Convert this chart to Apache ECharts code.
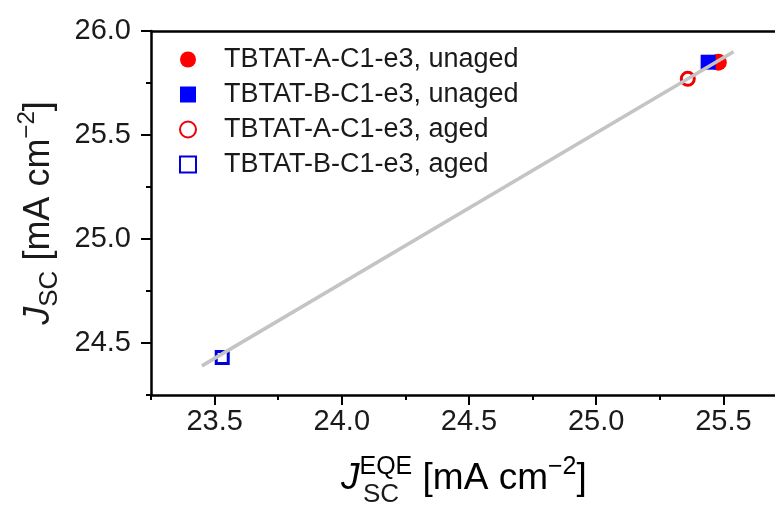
<!DOCTYPE html>
<html>
<head>
<meta charset="utf-8">
<script src="https://cdn.jsdelivr.net/npm/echarts@6/dist/echarts.min.js"></script>
<style>html,body{margin:0;padding:0;background:#fff}#c{width:775px;height:515px}</style>
</head>
<body>
<div id="c"></div>
<script>
// ---- data ----
const seriesNames = ['TBTAT-A-C1-e3, unaged','TBTAT-B-C1-e3, unaged','TBTAT-A-C1-e3, aged','TBTAT-B-C1-e3, aged'];
const aUnaged = [[25.48, 25.85]];
const bUnaged = [[25.44, 25.85]];
const aAged   = [[25.36, 25.77]];
const bAged   = [[23.53, 24.43]];
const fitLine = [[23.45, 24.39], [25.54, 25.90]];
const xMajorTicks = [23.5, 24.0, 24.5, 25.0, 25.5];
const xMinorTicks = [23.25, 23.75, 24.25, 24.75, 25.25, 25.75];
const yMajorTicks = [24.5, 25.0, 25.5, 26.0];
const yMinorTicks = [24.25, 24.75, 25.25, 25.75];
const xRange = [23.25, 25.75];
const yRange = [24.25, 26.0];

const FONT = '"Liberation Sans", Arial, sans-serif';
const TXT = '#1a1a1a';
const chart = echarts.init(document.getElementById('c'), null, {renderer:'canvas'});

const richStyles = {
  i:    {fontFamily: FONT, fontSize: 36, fontStyle: 'italic', color: TXT, lineHeight: 48, verticalAlign: 'middle'},
  r:    {fontFamily: FONT, fontSize: 36, color: TXT, lineHeight: 48, verticalAlign: 'middle'},
  sub:  {fontFamily: FONT, fontSize: 26, color: TXT, lineHeight: 48, verticalAlign: 'bottom'},
  sup:  {fontFamily: FONT, fontSize: 24, color: TXT, lineHeight: 48, verticalAlign: 'top'}
};
const richX = {
  i:    Object.assign({}, richStyles.i, {fontSize: 37}),
  r:    Object.assign({}, richStyles.r, {fontSize: 37}),
  sup:  Object.assign({}, richStyles.sup, {fontSize: 25})
};

const axisLineStyle = {color: '#000', width: 2.5};
const tickStyle = {color: '#000', width: 2};

chart.setOption({
  animation: false,
  backgroundColor: '#fff',
  grid: {left: 151, top: 31, width: 636, height: 364, outerBoundsMode: 'none', containLabel: false, show: false},
  legend: {
    orient: 'vertical', left: 179, top: 46, itemWidth: 16, itemHeight: 16, itemGap: 8, padding: 0,
    textStyle: {fontFamily: FONT, fontSize: 27, color: TXT, lineHeight: 26,
      rich: {s: {width: 23, fontSize: 27}}},
    formatter: name => '{s| }' + name,
    data: seriesNames
  },
  xAxis: [{
    type: 'value', min: xRange[0], max: xRange[1], position: 'bottom',
    axisLine: {show: true, onZero: false, lineStyle: axisLineStyle},
    axisTick: {show: true, inside: false, length: 10, lineStyle: tickStyle, customValues: xMajorTicks},
    axisLabel: {show: true, margin: 12, fontFamily: FONT, fontSize: 29, color: TXT, customValues: xMajorTicks,
      formatter: v => Number(v).toFixed(1)},
    splitLine: {show: false}
  }, {
    type: 'value', min: xRange[0], max: xRange[1], position: 'bottom',
    axisLine: {show: false, onZero: false},
    axisTick: {show: true, inside: false, length: 5, lineStyle: tickStyle, customValues: xMinorTicks},
    axisLabel: {show: false}, splitLine: {show: false}
  }, {
    type: 'value', min: xRange[0], max: xRange[1], position: 'top',
    axisLine: {show: true, onZero: false, lineStyle: axisLineStyle},
    axisTick: {show: false}, axisLabel: {show: false}, splitLine: {show: false}
  }],
  yAxis: [{
    type: 'value', min: yRange[0], max: yRange[1], position: 'left',
    axisLine: {show: true, onZero: false, lineStyle: axisLineStyle},
    axisTick: {show: true, inside: false, length: 10, lineStyle: tickStyle, customValues: yMajorTicks},
    axisLabel: {show: true, margin: 20, fontFamily: FONT, fontSize: 29, color: TXT, customValues: yMajorTicks,
      formatter: v => Number(v).toFixed(1)},
    splitLine: {show: false},
    name: '{i|J}{sub|SC}{r| [mA cm}{sup|−2}{r|]}',
    nameLocation: 'middle', nameRotate: 90, nameGap: 88,
    nameTextStyle: {rich: richStyles}
  }, {
    type: 'value', min: yRange[0], max: yRange[1], position: 'left',
    axisLine: {show: false, onZero: false},
    axisTick: {show: true, inside: false, length: 5, lineStyle: tickStyle, customValues: yMinorTicks},
    axisLabel: {show: false}, splitLine: {show: false}
  }],
  graphic: [
    {type: 'text', left: 341, top: 455, z: 100,
      style: {text: '{i|J}{sup|EQE}{r| [mA cm}{sup|−2}{r|]}', rich: richX}},
    {type: 'text', left: 363, top: 482, z: 100,
      style: {text: 'SC', fontFamily: FONT, fontSize: 26, fill: TXT}},
    {type: 'rect', z: 100, silent: true,
      shape: {x: 768, y: 33.5, width: 10, height: 359.5}, style: {fill: '#fff'}}
  ],
  series: [
    {name: seriesNames[0], type: 'scatter', data: aUnaged, symbol: 'circle', symbolSize: 17,
      itemStyle: {color: '#ff0000', opacity: 1}},
    {name: seriesNames[1], type: 'scatter', data: bUnaged, symbol: 'rect', symbolSize: 15,
      itemStyle: {color: '#0000ff', opacity: 1}},
    {name: seriesNames[2], type: 'scatter', data: aAged, symbol: 'circle', symbolSize: 13,
      itemStyle: {color: 'rgba(255,255,255,0)', borderColor: '#ee0000', borderWidth: 3, opacity: 1}},
    {name: seriesNames[3], type: 'scatter', data: bAged, symbol: 'rect', symbolSize: 12,
      itemStyle: {color: 'rgba(255,255,255,0)', borderColor: '#0000dd', borderWidth: 3, opacity: 1}},
    {name: 'fit', type: 'line', data: fitLine, symbol: 'none', z: 5,
      lineStyle: {color: '#c4c4c4', width: 3.5}, silent: true}
  ]
});
</script>
</body>
</html>
